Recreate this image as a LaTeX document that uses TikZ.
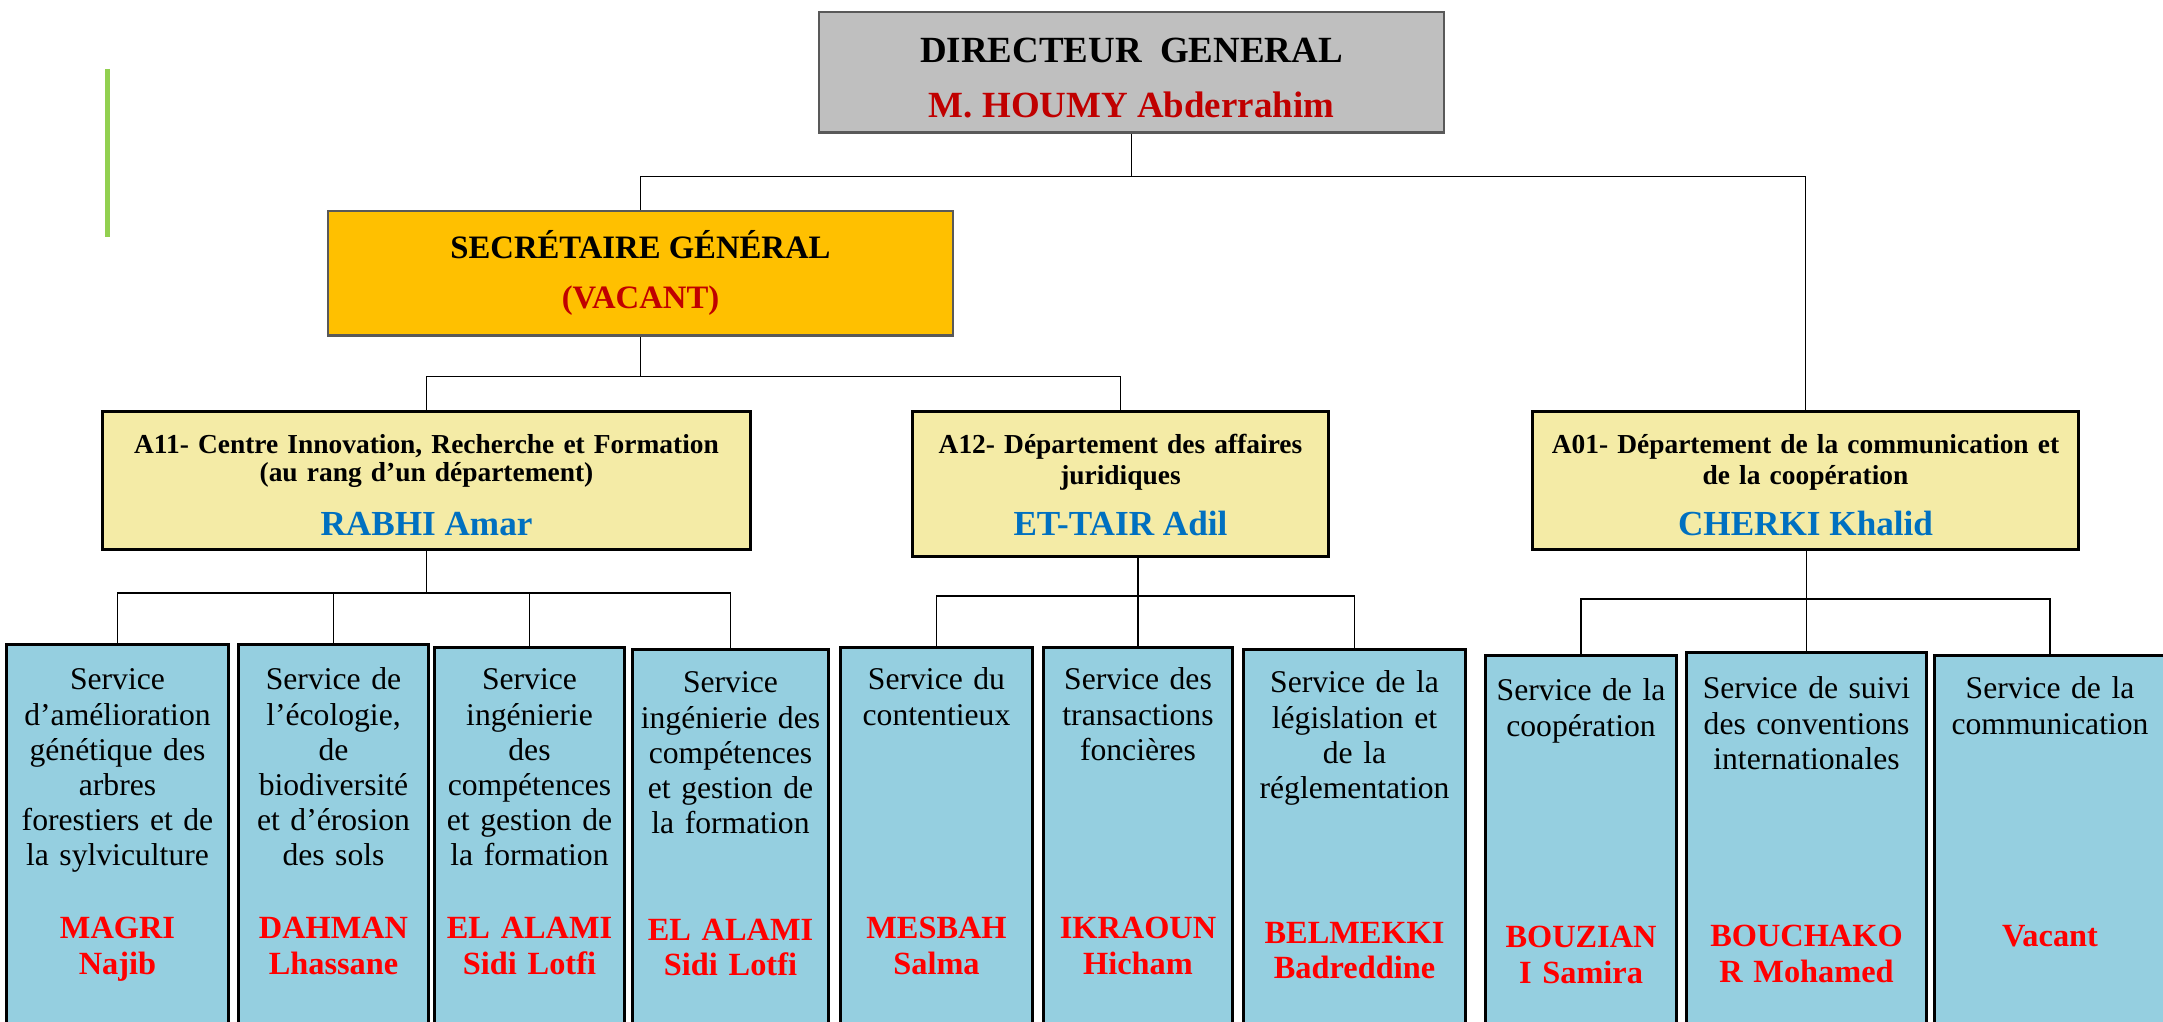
\documentclass[tikz,border=0pt]{standalone}
\usepackage{fontspec}
\setmainfont{Liberation Serif}
\definecolor{dggray}{HTML}{BFBFBF}
\definecolor{sgorange}{HTML}{FFC000}
\definecolor{hdyellow}{HTML}{F4EBA6}
\definecolor{svcblue}{HTML}{95CFE0}
\definecolor{darkred}{HTML}{C00000}
\definecolor{namered}{HTML}{FF0000}
\definecolor{nameblue}{HTML}{0070C0}
\definecolor{barsgreen}{HTML}{92D050}
\definecolor{boxedge}{HTML}{595959}
\begin{document}
\begin{tikzpicture}[x=0.01cm,y=-0.01cm,
 conn/.style={draw=black,line width=0.45pt},
 topbox/.style={draw=boxedge,line width=0.7pt,inner sep=0pt,anchor=north},
 hdbox/.style={draw=black,fill=hdyellow,line width=0.85pt,inner sep=0pt,anchor=north},
 svcbox/.style={draw=black,fill=svcblue,line width=0.85pt,inner sep=0pt,anchor=north},
 svctext/.style={anchor=base,inner sep=0pt,align=center,font=\fontsize{9}{10}\selectfont},
 svcname/.style={anchor=base,inner sep=0pt,align=center,text=namered,font=\bfseries\fontsize{9.2}{10}\selectfont},
 hdtext/.style={anchor=base,inner sep=0pt,align=center,font=\bfseries\fontsize{7.8}{8.8}\selectfont},
 hdname/.style={anchor=base,inner sep=0pt,text=nameblue,font=\bfseries\fontsize{10}{12}\selectfont},
 toptext/.style={anchor=base,inner sep=0pt,font=\bfseries\fontsize{10.5}{12}\selectfont},
 sgtext/.style={anchor=base,inner sep=0pt,font=\bfseries\fontsize{9.3}{11}\selectfont},
]
\useasboundingbox (0,0) rectangle (2163,1022);
\clip (0,0) rectangle (2163,1022);
\fill[white] (0,0) rectangle (2163,1022);

% decorative green bar
\draw[barsgreen,line width=1.2pt] (107.6,69) -- (107.6,237);

% top level
\node[topbox,fill=dggray,minimum width=6.25cm,minimum height=1.20cm] (dg) at (1131.5,11) {};
\node[toptext] (dgt) at (1131.5,63) {DIRECTEUR~~GENERAL};
\node[toptext,text=darkred] (dgn) at (1131.5,118) {M. HOUMY Abderrahim};

\node[topbox,fill=sgorange,minimum width=6.25cm,minimum height=1.24cm] (sg) at (640.5,210) {};
\node[sgtext] (sgt) at (640.5,259) {SECRÉTAIRE GÉNÉRAL};
\node[sgtext,text=darkred] (sgn) at (640.5,309) {(VACANT)};

% departments
\node[hdbox,minimum width=6.47cm,minimum height=1.38cm] (a11) at (426.5,410) {};
\node[hdtext,text width=6.3cm,font=\bfseries\fontsize{7.8}{7.7}\selectfont] (a11t) at (426.5,454) {A11- Centre Innovation, Recherche et Formation\\(au rang d’un département)};
\node[hdname] (a11n) at (426.5,536) {RABHI Amar};

\node[hdbox,minimum width=4.15cm,minimum height=1.45cm] (a12) at (1120.5,410) {};
\node[hdtext,text width=4.0cm] (a12t) at (1120.5,454) {A12- Département des affaires\\juridiques};
\node[hdname] (a12n) at (1120.5,536) {ET-TAIR Adil};

\node[hdbox,minimum width=5.45cm,minimum height=1.38cm] (a01) at (1805.5,410) {};
\node[hdtext,text width=5.3cm] (a01t) at (1805.5,454) {A01- Département de la communication et\\de la coopération};
\node[hdname] (a01n) at (1805.5,536) {CHERKI Khalid};

% services
\node[svcbox,minimum width=2.21cm,minimum height=3.87cm] (s1) at (117.5,643) {};
\node[svcbox,minimum width=1.89cm,minimum height=3.87cm] (s2) at (333.5,643) {};
\node[svcbox,minimum width=1.89cm,minimum height=3.84cm] (s3) at (529.5,646) {};
\node[svcbox,minimum width=1.95cm,minimum height=3.82cm] (s4) at (730.5,648) {};
\node[svcbox,minimum width=1.91cm,minimum height=3.84cm] (s5) at (936.5,646) {};
\node[svcbox,minimum width=1.88cm,minimum height=3.84cm] (s6) at (1138,646) {};
\node[svcbox,minimum width=2.21cm,minimum height=3.82cm] (s7) at (1354.5,648) {};
\node[svcbox,minimum width=1.90cm,minimum height=3.76cm] (s8) at (1581,654) {};
\node[svcbox,minimum width=2.39cm,minimum height=3.79cm] (s9) at (1806.5,651) {};
\node[svcbox,minimum width=2.30cm,minimum height=3.76cm] (s10) at (2050,654) {};

\node[svctext,text width=2.15cm] (t1) at (117.5,690) {Service\\d’amélioration\\génétique des\\arbres\\forestiers et de\\la sylviculture};
\node[svctext,text width=1.85cm] (t2) at (333.5,690) {Service de\\l’écologie,\\de\\biodiversité\\et d’érosion\\des sols};
\node[svctext,text width=1.85cm] (t3) at (529.5,690) {Service\\ingénierie\\des\\compétences\\et gestion de\\la formation};
\node[svctext,text width=1.90cm] (t4) at (730.5,693) {Service\\ingénierie des\\compétences\\et gestion de\\la formation};
\node[svctext,text width=1.85cm] (t5) at (936.5,690) {Service du\\contentieux};
\node[svctext,text width=1.85cm] (t6) at (1138,690) {Service des\\transactions\\foncières};
\node[svctext,text width=2.15cm] (t7) at (1354.5,693) {Service de la\\législation et\\de la\\réglementation};
\node[svctext,text width=1.85cm] (t8) at (1581,701) {Service de la\\coopération};
\node[svctext,text width=2.35cm] (t9) at (1806.5,699) {Service de suivi\\des conventions\\internationales};
\node[svctext,text width=2.25cm] (t10) at (2050,699) {Service de la\\communication};

\node[svcname,text width=2.15cm] (n1) at (117.5,939) {MAGRI\\Najib};
\node[svcname,text width=1.85cm] (n2) at (333.5,939) {DAHMAN\\Lhassane};
\node[svcname,text width=1.85cm] (n3) at (529.5,939) {EL ALAMI\\Sidi Lotfi};
\node[svcname,text width=1.90cm] (n4) at (730.5,940) {EL ALAMI\\Sidi Lotfi};
\node[svcname,text width=1.85cm] (n5) at (936.5,939) {MESBAH\\Salma};
\node[svcname,text width=1.85cm] (n6) at (1138,939) {IKRAOUN\\Hicham};
\node[svcname,text width=2.15cm] (n7) at (1354.5,943) {BELMEKKI\\Badreddine};
\node[svcname,text width=1.85cm] (n8) at (1581,948) {BOUZIAN\\I Samira};
\node[svcname,text width=2.35cm] (n9) at (1806.5,947) {BOUCHAKO\\R Mohamed};
\node[svcname,text width=2.25cm] (n10) at (2050,946) {Vacant};

% connectors
\draw[conn] (dg.south) -- ++(0,43) coordinate (jdg);
\draw[conn] (jdg) -| (sg.north);
\draw[conn] (jdg) -| (a01.north);
\draw[conn] (sg.south) -- ++(0,40) coordinate (jsg);
\draw[conn] (jsg) -| (a11.north);
\draw[conn] (jsg) -| (a12.north);

\draw[conn] (a11.south) -- ++(0,42) coordinate (ja11);
\draw[conn] (ja11) -| (s1.north);
\draw[conn] (ja11) -| (s2.north);
\draw[conn] (ja11) -| (s3.north);
\draw[conn] (ja11) -| (s4.north);

\draw[conn] (a12.south -| s6.north) -- (s6.north);
\path (a12.south -| s6.north) ++(0,38) coordinate (ja12);
\draw[conn] (ja12) -| (s5.north);
\draw[conn] (ja12) -| (s7.north);

\draw[conn] (a01.south -| s9.north) -- (s9.north);
\path (a01.south -| s9.north) ++(0,48) coordinate (ja01);
\draw[conn] (ja01) -| (s8.north);
\draw[conn] (ja01) -| (s10.north);
\end{tikzpicture}
\end{document}
